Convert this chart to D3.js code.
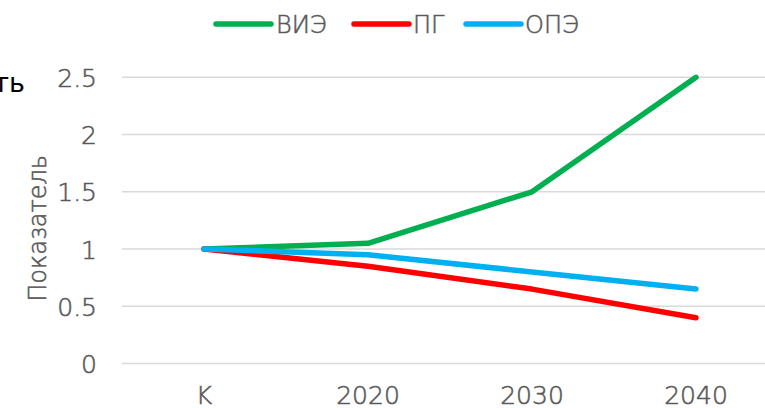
<!DOCTYPE html>
<html>
<head>
<meta charset="utf-8">
<script src="https://cdn.jsdelivr.net/npm/d3@7"></script>
<style>
  html, body { margin: 0; padding: 0; background: #fff; overflow: hidden; }
  svg { display: block; }
  text { font-family: "DejaVu Sans", "Lato", sans-serif; }
  .light { font-weight: 200; stroke: #595959; stroke-width: 0.55px; }
</style>
</head>
<body>
<svg id="chart" width="765" height="408"></svg>
<script>
// Categories along the x axis
const categories = ["K", "2020", "2030", "2040"];

// Series values (index relative to base = 1)
const vieValues = [1, 1.05, 1.5, 2.5];
const pgValues  = [1, 0.85, 0.65, 0.4];
const opeValues = [1, 0.95, 0.8, 0.65];

const seriesNames  = ["ВИЭ", "ПГ", "ОПЭ"];
const seriesColors = ["#00B050", "#FF0000", "#00B0F0"];

// Y axis ticks
const yTicks = [0, 0.5, 1, 1.5, 2, 2.5];
const yTickLabels = ["0", "0.5", "1", "1.5", "2", "2.5"];

const yTitle = "Показатель";
const clippedTitle = "ть";

const series = [
  { name: seriesNames[0], color: seriesColors[0], values: vieValues },
  { name: seriesNames[1], color: seriesColors[1], values: pgValues },
  { name: seriesNames[2], color: seriesColors[2], values: opeValues }
];

const svg = d3.select("#chart");
const textColor = "#595959";
const gridColor = "#D9D9D9";

const plot = { left: 122, right: 778, top: 77.3, bottom: 363.5 };

const x = d3.scaleBand().domain(categories).range([plot.left, plot.right]);
const y = d3.scaleLinear().domain([0, 2.5]).range([plot.bottom, plot.top]);

// Horizontal gridlines (the 0 line doubles as the category axis)
svg.append("g")
  .selectAll("line")
  .data(yTicks)
  .join("line")
  .attr("x1", plot.left)
  .attr("x2", plot.right)
  .attr("y1", d => y(d))
  .attr("y2", d => y(d))
  .attr("stroke", gridColor)
  .attr("stroke-width", 1.5);

// Y tick labels
const yAxis = d3.axisLeft(y).tickValues(yTicks).tickSize(0).tickPadding(0)
  .tickFormat((d, i) => yTickLabels[i]);
const gy = svg.append("g").attr("transform", "translate(97,0)").call(yAxis);
gy.select(".domain").remove();
gy.selectAll("text")
  .attr("class", "light")
  .attr("fill", textColor)
  .attr("font-size", 25)
  .attr("font-family", null)
  .attr("dy", "0.36em");

// X category labels
const xAxis = d3.axisBottom(x).tickSize(0).tickPadding(0);
const gx = svg.append("g").attr("transform", "translate(0,380)").call(xAxis);
gx.select(".domain").remove();
gx.selectAll("text")
  .attr("class", "light")
  .attr("fill", textColor)
  .attr("font-size", 25)
  .attr("font-family", null)
  .attr("dy", "0.95em");

// Y axis title
svg.append("text")
  .attr("class", "light")
  .attr("transform", `translate(46,${(plot.top + plot.bottom) / 2 + 8}) rotate(-90)`)
  .attr("text-anchor", "middle")
  .attr("fill", textColor)
  .attr("font-size", 24)
  .text(yTitle);

// Partially visible chart title at the left edge
svg.append("text")
  .attr("x", 25)
  .attr("y", 92)
  .attr("text-anchor", "end")
  .attr("fill", "#000")
  .attr("font-size", 27)
  .text(clippedTitle);

// Lines
const line = d3.line()
  .x((d, i) => x(categories[i]) + x.bandwidth() / 2)
  .y(d => y(d));

svg.append("g")
  .selectAll("path")
  .data(series)
  .join("path")
  .attr("d", d => line(d.values))
  .attr("fill", "none")
  .attr("stroke", d => d.color)
  .attr("stroke-width", 5.5)
  .attr("stroke-linecap", "round")
  .attr("stroke-linejoin", "round");

// Legend
const legendItems = [
  { x: 216, textX: 276 },
  { x: 354, textX: 413 },
  { x: 466, textX: 525 }
];
const legend = svg.append("g");
series.forEach((s, i) => {
  const pos = legendItems[i];
  legend.append("line")
    .attr("x1", pos.x).attr("x2", pos.x + 55)
    .attr("y1", 24).attr("y2", 24)
    .attr("stroke", s.color)
    .attr("stroke-width", 5.5)
    .attr("stroke-linecap", "round");
  legend.append("text")
    .attr("class", "light")
    .attr("x", pos.textX)
    .attr("y", 24)
    .attr("dy", "0.36em")
    .attr("fill", textColor)
    .attr("font-size", 24)
    .text(s.name);
});
</script>
</body>
</html>
